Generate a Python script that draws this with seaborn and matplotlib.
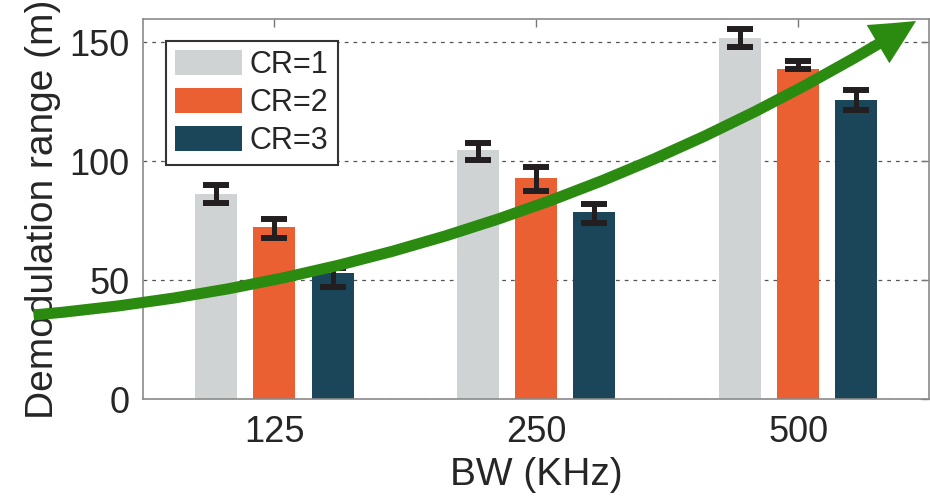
import matplotlib
matplotlib.use("Agg")
import matplotlib.pyplot as plt
from matplotlib.patches import FancyArrowPatch, ArrowStyle
import numpy as np
import pandas as pd
import seaborn as sns

# Bandwidth groups and coding-rate series
bandwidths = ["125", "250", "500"]
coding_rates = ["CR=1", "CR=2", "CR=3"]

# Mean demodulation range (m) per coding rate, ordered by bandwidth
range_cr1 = [86.3, 104.7, 152.1]
range_cr2 = [72.3, 92.9, 138.7]
range_cr3 = [52.9, 78.6, 125.7]

# Error bar extents (m)
low_cr1 = [82.5, 100.5, 148.2]
high_cr1 = [90.2, 107.8, 155.7]
low_cr2 = [67.6, 87.6, 138.7]
high_cr2 = [76.0, 97.5, 142.1]
low_cr3 = [47.0, 74.2, 121.8]
high_cr3 = [55.3, 82.0, 130.0]

bar_colors = ["#D0D3D4", "#EB6033", "#1B4559"]

means = [range_cr1, range_cr2, range_cr3]
lows = [low_cr1, low_cr2, low_cr3]
highs = [high_cr1, high_cr2, high_cr3]

df = pd.DataFrame({
    "BW": [bw for _ in coding_rates for bw in bandwidths],
    "CR": [cr for cr in coding_rates for _ in bandwidths],
    "range": [v for series in means for v in series],
})

sns.set_style("white")
plt.rcParams["font.family"] = ["Liberation Sans", "DejaVu Sans"]

fig = plt.figure(figsize=(9.3, 5.03), dpi=100)
ax = fig.add_axes([0.1543, 0.2062, 0.8446, 0.7566])

sns.barplot(data=df, x="BW", y="range", hue="CR", order=bandwidths,
            hue_order=coding_rates, palette=bar_colors, saturation=1,
            width=0.667, gap=0.28, errorbar=None, linewidth=0, ax=ax,
            zorder=2)

# Error bars centred on each bar
for cont, m, lo, hi in zip(ax.containers, means, lows, highs):
    xs = [p.get_x() + p.get_width() / 2 for p in cont.patches]
    m = np.asarray(m)
    lo = np.asarray(lo)
    hi = np.asarray(hi)
    ax.errorbar(xs, m, yerr=[m - lo, hi - m], fmt="none", ecolor="#231F20",
                elinewidth=3.6, capsize=9.7, capthick=4.3, zorder=3)

ax.set_xlim(-0.5, 2.5)
ax.set_ylim(0, 160)
ax.set_yticks([0, 50, 100, 150])
ax.set_axisbelow(True)
ax.yaxis.grid(True, linestyle=(0, (3, 4)), color="#555555", linewidth=0.9)
ax.xaxis.grid(False)

for side in ["left", "right", "top", "bottom"]:
    ax.spines[side].set_visible(True)
    ax.spines[side].set_color("#8a8a8a")
    ax.spines[side].set_linewidth(1.2)

ax.tick_params(direction="in", length=6, width=1, color="#777777",
               top=True, right=True, labelsize=26, labelcolor="#262626")
ax.tick_params(axis="y", pad=10)
ax.tick_params(axis="x", pad=11)

ax.set_xlabel("BW (KHz)", fontsize=28, labelpad=5, color="#262626")
ax.set_ylabel("Demodulation range (m)", fontsize=28, labelpad=6,
              color="#262626")

handles, labels = ax.get_legend_handles_labels()
leg = ax.legend(handles, labels, loc="upper left",
                bbox_to_anchor=(0.0286, 0.942), borderaxespad=0,
                fontsize=22, handlelength=2.2, handleheight=0.9,
                handletextpad=0.25, labelspacing=0.25, borderpad=0.3,
                frameon=True, fancybox=False, edgecolor="#333333",
                framealpha=1)
leg.get_frame().set_linewidth(1.5)

# Trend arrow rising across the bandwidth groups
trend = FancyArrowPatch(
    posA=(-0.140, 0.2215), posB=(0.9835, 0.9939), transform=ax.transAxes,
    arrowstyle=ArrowStyle.Simple(head_length=3.2, head_width=3.2,
                                 tail_width=0.8),
    connectionstyle="arc3,rad=0.12", mutation_scale=10,
    color="#2B8A10", lw=0, shrinkA=0, shrinkB=0, zorder=5)
fig.add_artist(trend)

fig.savefig("out.png", dpi=100)
